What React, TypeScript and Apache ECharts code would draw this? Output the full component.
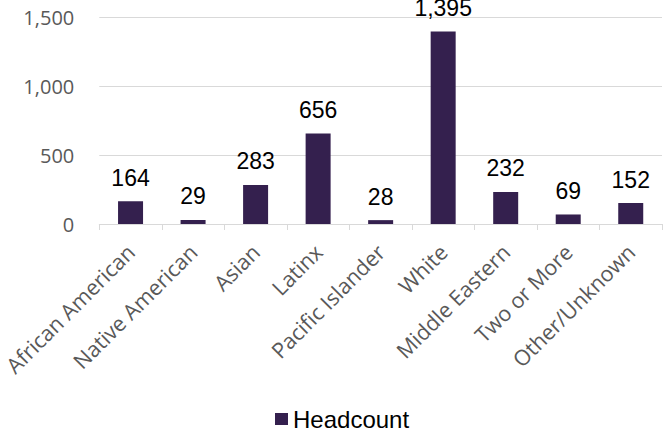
import React, { useEffect, useRef } from "react";
import * as echarts from "echarts";

const categories = [
  "African American",
  "Native American",
  "Asian",
  "Latinx",
  "Pacific Islander",
  "White",
  "Middle Eastern",
  "Two or More",
  "Other/Unknown",
];
const headcount = [164, 29, 283, 656, 28, 1395, 232, 69, 152];
const seriesName = "Headcount";
const yMin = 0;
const yMax = 1500;
const yInterval = 500;

const fmt = (v: number) => Number(v).toLocaleString("en-US");

export default function App() {
  const ref = useRef<HTMLDivElement>(null);
  useEffect(() => {
    document.body.style.margin = "0";
    if (!ref.current) return;
    const chart = echarts.init(ref.current, undefined, { renderer: "svg" });
    chart.setOption({
      animation: false,
      backgroundColor: "#ffffff",
      grid: { left: 91, right: 9, top: 17, bottom: 209, containLabel: false },
      legend: {
        data: [seriesName],
        left: 270,
        top: 402,
        icon: "rect",
        itemWidth: 13,
        itemHeight: 12,
        itemGap: 10,
        textStyle: {
          fontFamily: "Liberation Sans, Arial, sans-serif",
          fontSize: 24,
          color: "#000000",
        },
      },
      xAxis: {
        type: "category",
        data: categories,
        axisLine: { show: true, lineStyle: { color: "#d9d9d9", width: 1 } },
        axisTick: { show: true, length: 6, lineStyle: { color: "#d9d9d9" } },
        axisLabel: {
          rotate: 45,
          interval: 0,
          margin: 24,
          fontFamily: "Open Sans, sans-serif",
          fontSize: 21.5,
          color: "#595959",
        },
      },
      yAxis: {
        type: "value",
        min: yMin,
        max: yMax,
        interval: yInterval,
        axisLine: { show: false },
        axisTick: { show: false },
        splitLine: { lineStyle: { color: "#d9d9d9", width: 1 } },
        axisLabel: {
          margin: 25,
          fontFamily: "Open Sans, sans-serif",
          fontSize: 20,
          color: "#595959",
          formatter: (v: number) => fmt(v),
        },
      },
      series: [
        {
          name: seriesName,
          type: "bar",
          data: headcount,
          barWidth: 25,
          itemStyle: { color: "#34204e" },
          label: {
            show: true,
            position: "top",
            distance: 12,
            fontFamily: "Liberation Sans, Arial, sans-serif",
            fontSize: 23,
            color: "#000000",
            formatter: (p: any) => fmt(p.value),
          },
        },
      ],
    });
    return () => chart.dispose();
  }, []);
  return <div ref={ref} style={{ width: 671, height: 433 }} />;
}
